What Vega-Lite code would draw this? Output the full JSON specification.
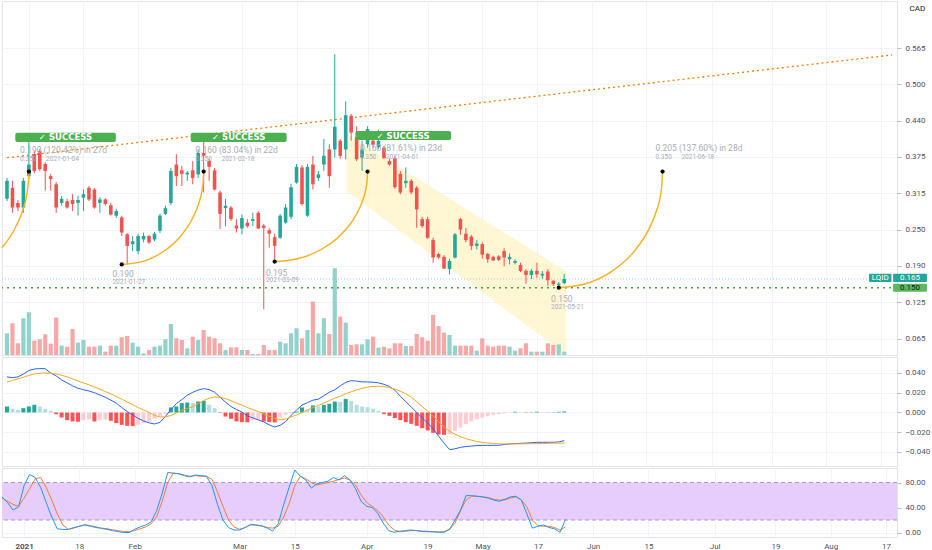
{
  "$schema": "https://vega.github.io/schema/vega-lite/v6.json",
  "padding": 0,
  "background": "white",
  "spacing": 0,
  "config": {
    "font": "Roboto",
    "view": {"stroke": "#e0e3eb"},
    "axis": {"labelFontSize": 8, "labelColor": "#50535e", "gridColor": "#f0f3fa", "domain": false, "tickColor": "#b8bcc6", "tickSize": 4, "labelPadding": 4, "labelOverlap": false}
  },
  "datasets": {
    "px": [
      {"i":-4,"o":0.303,"h":0.339,"l":0.299,"c":0.334,"v":65},
      {"i":-3,"o":0.322,"h":0.334,"l":0.279,"c":0.288,"v":95},
      {"i":-2,"o":0.296,"h":0.301,"l":0.282,"c":0.288,"v":35},
      {"i":-1,"o":0.288,"h":0.339,"l":0.279,"c":0.334,"v":110},
      {"i":0,"o":0.342,"h":0.401,"l":0.337,"c":0.362,"v":128},
      {"i":1,"o":0.380,"h":0.385,"l":0.347,"c":0.351,"v":43},
      {"i":2,"o":0.385,"h":0.389,"l":0.351,"c":0.354,"v":47},
      {"i":3,"o":0.363,"h":0.366,"l":0.317,"c":0.351,"v":62},
      {"i":4,"o":0.342,"h":0.346,"l":0.317,"c":0.337,"v":34},
      {"i":5,"o":0.328,"h":0.332,"l":0.279,"c":0.288,"v":112},
      {"i":6,"o":0.296,"h":0.308,"l":0.291,"c":0.303,"v":28},
      {"i":7,"o":0.299,"h":0.303,"l":0.286,"c":0.288,"v":25},
      {"i":8,"o":0.301,"h":0.311,"l":0.282,"c":0.294,"v":78},
      {"i":9,"o":0.296,"h":0.308,"l":0.274,"c":0.301,"v":37},
      {"i":10,"o":0.305,"h":0.319,"l":0.282,"c":0.311,"v":45},
      {"i":11,"o":0.322,"h":0.325,"l":0.299,"c":0.302,"v":25},
      {"i":12,"o":0.319,"h":0.322,"l":0.286,"c":0.288,"v":25},
      {"i":13,"o":0.296,"h":0.306,"l":0.279,"c":0.302,"v":28},
      {"i":14,"o":0.302,"h":0.304,"l":0.291,"c":0.294,"v":10},
      {"i":15,"o":0.292,"h":0.296,"l":0.274,"c":0.276,"v":28},
      {"i":16,"o":0.274,"h":0.286,"l":0.270,"c":0.282,"v":28},
      {"i":17,"o":0.271,"h":0.274,"l":0.239,"c":0.245,"v":53},
      {"i":18,"o":0.242,"h":0.244,"l":0.190,"c":0.222,"v":57},
      {"i":19,"o":0.225,"h":0.239,"l":0.213,"c":0.230,"v":37},
      {"i":20,"o":0.213,"h":0.243,"l":0.208,"c":0.239,"v":25},
      {"i":21,"o":0.233,"h":0.245,"l":0.228,"c":0.239,"v":5},
      {"i":22,"o":0.239,"h":0.241,"l":0.225,"c":0.228,"v":15},
      {"i":23,"o":0.233,"h":0.246,"l":0.230,"c":0.243,"v":25},
      {"i":24,"o":0.248,"h":0.277,"l":0.244,"c":0.274,"v":28},
      {"i":25,"o":0.277,"h":0.291,"l":0.275,"c":0.287,"v":47},
      {"i":26,"o":0.296,"h":0.356,"l":0.292,"c":0.351,"v":93},
      {"i":27,"o":0.362,"h":0.380,"l":0.325,"c":0.342,"v":50},
      {"i":28,"o":0.352,"h":0.360,"l":0.325,"c":0.346,"v":45},
      {"i":29,"o":0.345,"h":0.351,"l":0.334,"c":0.348,"v":20},
      {"i":30,"o":0.352,"h":0.368,"l":0.328,"c":0.339,"v":55},
      {"i":31,"o":0.345,"h":0.388,"l":0.339,"c":0.382,"v":45},
      {"i":32,"o":0.382,"h":0.405,"l":0.314,"c":0.377,"v":75},
      {"i":33,"o":0.368,"h":0.372,"l":0.334,"c":0.358,"v":55},
      {"i":34,"o":0.352,"h":0.356,"l":0.317,"c":0.319,"v":50},
      {"i":35,"o":0.314,"h":0.317,"l":0.251,"c":0.277,"v":35},
      {"i":36,"o":0.287,"h":0.303,"l":0.256,"c":0.291,"v":15},
      {"i":37,"o":0.288,"h":0.291,"l":0.265,"c":0.268,"v":23},
      {"i":38,"o":0.257,"h":0.268,"l":0.245,"c":0.252,"v":23},
      {"i":39,"o":0.252,"h":0.276,"l":0.242,"c":0.270,"v":15},
      {"i":40,"o":0.262,"h":0.268,"l":0.253,"c":0.256,"v":15},
      {"i":41,"o":0.265,"h":0.279,"l":0.256,"c":0.268,"v":3},
      {"i":42,"o":0.279,"h":0.282,"l":0.251,"c":0.252,"v":3},
      {"i":43,"o":0.257,"h":0.260,"l":0.113,"c":0.253,"v":30},
      {"i":44,"o":0.249,"h":0.253,"l":0.219,"c":0.243,"v":15},
      {"i":45,"o":0.237,"h":0.243,"l":0.195,"c":0.222,"v":15},
      {"i":46,"o":0.236,"h":0.277,"l":0.234,"c":0.274,"v":40},
      {"i":47,"o":0.262,"h":0.294,"l":0.260,"c":0.288,"v":35},
      {"i":48,"o":0.272,"h":0.329,"l":0.268,"c":0.323,"v":65},
      {"i":49,"o":0.331,"h":0.363,"l":0.329,"c":0.358,"v":80},
      {"i":50,"o":0.357,"h":0.361,"l":0.291,"c":0.294,"v":50},
      {"i":51,"o":0.274,"h":0.363,"l":0.272,"c":0.358,"v":75},
      {"i":52,"o":0.362,"h":0.377,"l":0.319,"c":0.328,"v":160},
      {"i":53,"o":0.339,"h":0.351,"l":0.334,"c":0.345,"v":65},
      {"i":54,"o":0.362,"h":0.406,"l":0.351,"c":0.377,"v":110},
      {"i":55,"o":0.388,"h":0.397,"l":0.322,"c":0.342,"v":63},
      {"i":56,"o":0.388,"h":0.552,"l":0.374,"c":0.427,"v":260},
      {"i":57,"o":0.403,"h":0.406,"l":0.372,"c":0.377,"v":115},
      {"i":58,"o":0.388,"h":0.471,"l":0.371,"c":0.447,"v":97},
      {"i":59,"o":0.446,"h":0.449,"l":0.403,"c":0.417,"v":30},
      {"i":60,"o":0.409,"h":0.428,"l":0.368,"c":0.371,"v":32},
      {"i":61,"o":0.374,"h":0.403,"l":0.351,"c":0.388,"v":32},
      {"i":62,"o":0.397,"h":0.428,"l":0.391,"c":0.423,"v":47},
      {"i":63,"o":0.403,"h":0.408,"l":0.391,"c":0.396,"v":55},
      {"i":64,"o":0.392,"h":0.422,"l":0.389,"c":0.403,"v":22},
      {"i":65,"o":0.391,"h":0.394,"l":0.372,"c":0.373,"v":25},
      {"i":66,"o":0.368,"h":0.372,"l":0.360,"c":0.362,"v":20},
      {"i":67,"o":0.373,"h":0.377,"l":0.320,"c":0.323,"v":35},
      {"i":68,"o":0.346,"h":0.351,"l":0.311,"c":0.314,"v":35},
      {"i":69,"o":0.330,"h":0.357,"l":0.322,"c":0.334,"v":27},
      {"i":70,"o":0.334,"h":0.337,"l":0.311,"c":0.314,"v":27},
      {"i":71,"o":0.322,"h":0.325,"l":0.253,"c":0.285,"v":63},
      {"i":72,"o":0.268,"h":0.272,"l":0.253,"c":0.256,"v":53},
      {"i":73,"o":0.268,"h":0.272,"l":0.234,"c":0.236,"v":43},
      {"i":74,"o":0.232,"h":0.236,"l":0.193,"c":0.202,"v":120},
      {"i":75,"o":0.208,"h":0.210,"l":0.200,"c":0.202,"v":87},
      {"i":76,"o":0.203,"h":0.206,"l":0.182,"c":0.183,"v":67},
      {"i":77,"o":0.182,"h":0.200,"l":0.173,"c":0.196,"v":60},
      {"i":78,"o":0.202,"h":0.244,"l":0.200,"c":0.242,"v":28},
      {"i":79,"o":0.268,"h":0.270,"l":0.241,"c":0.250,"v":28},
      {"i":80,"o":0.243,"h":0.253,"l":0.228,"c":0.232,"v":28},
      {"i":81,"o":0.238,"h":0.241,"l":0.215,"c":0.222,"v":28},
      {"i":82,"o":0.222,"h":0.232,"l":0.216,"c":0.226,"v":13},
      {"i":83,"o":0.225,"h":0.228,"l":0.200,"c":0.207,"v":50},
      {"i":84,"o":0.208,"h":0.210,"l":0.193,"c":0.199,"v":28},
      {"i":85,"o":0.203,"h":0.205,"l":0.196,"c":0.197,"v":25},
      {"i":86,"o":0.204,"h":0.206,"l":0.196,"c":0.198,"v":28},
      {"i":87,"o":0.213,"h":0.218,"l":0.187,"c":0.202,"v":28},
      {"i":88,"o":0.199,"h":0.209,"l":0.190,"c":0.203,"v":25},
      {"i":89,"o":0.193,"h":0.199,"l":0.190,"c":0.196,"v":13},
      {"i":90,"o":0.189,"h":0.193,"l":0.177,"c":0.179,"v":20},
      {"i":91,"o":0.179,"h":0.182,"l":0.157,"c":0.172,"v":35},
      {"i":92,"o":0.172,"h":0.182,"l":0.165,"c":0.179,"v":10},
      {"i":93,"o":0.179,"h":0.193,"l":0.167,"c":0.173,"v":10},
      {"i":94,"o":0.171,"h":0.179,"l":0.165,"c":0.174,"v":10},
      {"i":95,"o":0.178,"h":0.182,"l":0.153,"c":0.163,"v":35},
      {"i":96,"o":0.162,"h":0.163,"l":0.153,"c":0.156,"v":30},
      {"i":97,"o":0.155,"h":0.160,"l":0.150,"c":0.157,"v":32},
      {"i":98,"o":0.158,"h":0.174,"l":0.156,"c":0.165,"v":10}
    ],
    "macd": [
      {"i":-4,"m":0.0360,"s":0.0309,"h":0.0061},
      {"i":-3,"m":0.0353,"s":0.0325,"h":0.0037},
      {"i":-2,"m":0.0360,"s":0.0340,"h":0.0027},
      {"i":-1,"m":0.0390,"s":0.0357,"h":0.0044},
      {"i":0,"m":0.0425,"s":0.0375,"h":0.0061},
      {"i":1,"m":0.0440,"s":0.0390,"h":0.0078},
      {"i":2,"m":0.0445,"s":0.0398,"h":0.0061},
      {"i":3,"m":0.0443,"s":0.0400,"h":0.0037},
      {"i":4,"m":0.0400,"s":0.0398,"h":0.0017},
      {"i":5,"m":0.0370,"s":0.0390,"h":-0.0017},
      {"i":6,"m":0.0330,"s":0.0378,"h":-0.0051},
      {"i":7,"m":0.0300,"s":0.0360,"h":-0.0078},
      {"i":8,"m":0.0270,"s":0.0340,"h":-0.0091},
      {"i":9,"m":0.0245,"s":0.0318,"h":-0.0094},
      {"i":10,"m":0.0230,"s":0.0300,"h":-0.0078},
      {"i":11,"m":0.0218,"s":0.0280,"h":-0.0071},
      {"i":12,"m":0.0200,"s":0.0258,"h":-0.0091},
      {"i":13,"m":0.0178,"s":0.0236,"h":-0.0078},
      {"i":14,"m":0.0154,"s":0.0212,"h":-0.0071},
      {"i":15,"m":0.0125,"s":0.0188,"h":-0.0084},
      {"i":16,"m":0.0095,"s":0.0162,"h":-0.0108},
      {"i":17,"m":0.0050,"s":0.0135,"h":-0.0125},
      {"i":18,"m":0.0010,"s":0.0105,"h":-0.0135},
      {"i":19,"m":-0.0025,"s":0.0080,"h":-0.0138},
      {"i":20,"m":-0.0060,"s":0.0050,"h":-0.0125},
      {"i":21,"m":-0.0085,"s":0.0025,"h":-0.0108},
      {"i":22,"m":-0.0105,"s":0.0000,"h":-0.0091},
      {"i":23,"m":-0.0116,"s":-0.0030,"h":-0.0064},
      {"i":24,"m":-0.0100,"s":-0.0045,"h":-0.0041},
      {"i":25,"m":-0.0040,"s":-0.0045,"h":-0.0017},
      {"i":26,"m":0.0030,"s":-0.0030,"h":0.0051},
      {"i":27,"m":0.0090,"s":-0.0005,"h":0.0061},
      {"i":28,"m":0.0130,"s":0.0020,"h":0.0095},
      {"i":29,"m":0.0175,"s":0.0040,"h":0.0101},
      {"i":30,"m":0.0204,"s":0.0060,"h":0.0095},
      {"i":31,"m":0.0228,"s":0.0090,"h":0.0111},
      {"i":32,"m":0.0241,"s":0.0120,"h":0.0118},
      {"i":33,"m":0.0232,"s":0.0145,"h":0.0078},
      {"i":34,"m":0.0205,"s":0.0157,"h":0.0044},
      {"i":35,"m":0.0155,"s":0.0155,"h":-0.0005},
      {"i":36,"m":0.0105,"s":0.0140,"h":-0.0041},
      {"i":37,"m":0.0060,"s":0.0120,"h":-0.0064},
      {"i":38,"m":0.0030,"s":0.0095,"h":-0.0091},
      {"i":39,"m":0.0005,"s":0.0075,"h":-0.0098},
      {"i":40,"m":-0.0035,"s":0.0050,"h":-0.0100},
      {"i":41,"m":-0.0055,"s":0.0030,"h":-0.0078},
      {"i":42,"m":-0.0075,"s":0.0010,"h":-0.0074},
      {"i":43,"m":-0.0096,"s":-0.0015,"h":-0.0091},
      {"i":44,"m":-0.0125,"s":-0.0040,"h":-0.0098},
      {"i":45,"m":-0.0147,"s":-0.0060,"h":-0.0101},
      {"i":46,"m":-0.0130,"s":-0.0073,"h":-0.0051},
      {"i":47,"m":-0.0093,"s":-0.0068,"h":-0.0024},
      {"i":48,"m":-0.0030,"s":-0.0045,"h":0.0003},
      {"i":49,"m":0.0025,"s":-0.0025,"h":0.0010},
      {"i":50,"m":0.0075,"s":0.0000,"h":0.0051},
      {"i":51,"m":0.0100,"s":0.0025,"h":0.0027},
      {"i":52,"m":0.0125,"s":0.0050,"h":0.0071},
      {"i":53,"m":0.0135,"s":0.0072,"h":0.0061},
      {"i":54,"m":0.0170,"s":0.0095,"h":0.0078},
      {"i":55,"m":0.0205,"s":0.0120,"h":0.0088},
      {"i":56,"m":0.0230,"s":0.0145,"h":0.0111},
      {"i":57,"m":0.0270,"s":0.0164,"h":0.0108},
      {"i":58,"m":0.0305,"s":0.0190,"h":0.0138},
      {"i":59,"m":0.0322,"s":0.0210,"h":0.0118},
      {"i":60,"m":0.0318,"s":0.0228,"h":0.0078},
      {"i":61,"m":0.0310,"s":0.0245,"h":0.0061},
      {"i":62,"m":0.0309,"s":0.0257,"h":0.0054},
      {"i":63,"m":0.0307,"s":0.0264,"h":0.0037},
      {"i":64,"m":0.0300,"s":0.0266,"h":0.0017},
      {"i":65,"m":0.0285,"s":0.0262,"h":-0.0017},
      {"i":66,"m":0.0265,"s":0.0252,"h":-0.0034},
      {"i":67,"m":0.0225,"s":0.0237,"h":-0.0057},
      {"i":68,"m":0.0164,"s":0.0215,"h":-0.0078},
      {"i":69,"m":0.0110,"s":0.0190,"h":-0.0098},
      {"i":70,"m":0.0055,"s":0.0155,"h":-0.0115},
      {"i":71,"m":0.0000,"s":0.0110,"h":-0.0135},
      {"i":72,"m":-0.0055,"s":0.0060,"h":-0.0159},
      {"i":73,"m":-0.0105,"s":0.0015,"h":-0.0182},
      {"i":74,"m":-0.0165,"s":-0.0035,"h":-0.0206},
      {"i":75,"m":-0.0240,"s":-0.0093,"h":-0.0223},
      {"i":76,"m":-0.0310,"s":-0.0145,"h":-0.0226},
      {"i":77,"m":-0.0376,"s":-0.0190,"h":-0.0219},
      {"i":78,"m":-0.0368,"s":-0.0220,"h":-0.0186},
      {"i":79,"m":-0.0353,"s":-0.0245,"h":-0.0152},
      {"i":80,"m":-0.0345,"s":-0.0265,"h":-0.0118},
      {"i":81,"m":-0.0340,"s":-0.0280,"h":-0.0091},
      {"i":82,"m":-0.0335,"s":-0.0295,"h":-0.0071},
      {"i":83,"m":-0.0333,"s":-0.0303,"h":-0.0051},
      {"i":84,"m":-0.0333,"s":-0.0309,"h":-0.0037},
      {"i":85,"m":-0.0333,"s":-0.0314,"h":-0.0024},
      {"i":86,"m":-0.0332,"s":-0.0317,"h":-0.0017},
      {"i":87,"m":-0.0325,"s":-0.0318,"h":-0.0010},
      {"i":88,"m":-0.0318,"s":-0.0319,"h":-0.0003},
      {"i":89,"m":-0.0315,"s":-0.0318,"h":0.0007},
      {"i":90,"m":-0.0312,"s":-0.0318,"h":0.0003},
      {"i":91,"m":-0.0310,"s":-0.0317,"h":-0.0003},
      {"i":92,"m":-0.0306,"s":-0.0316,"h":0.0003},
      {"i":93,"m":-0.0302,"s":-0.0316,"h":0.0007},
      {"i":94,"m":-0.0302,"s":-0.0315,"h":0.0003},
      {"i":95,"m":-0.0302,"s":-0.0313,"h":-0.0002},
      {"i":96,"m":-0.0301,"s":-0.0311,"h":0.0003},
      {"i":97,"m":-0.0298,"s":-0.0310,"h":0.0007},
      {"i":98,"m":-0.0285,"s":-0.0309,"h":0.0010}
    ],
    "stoch": [
      {"i":-4,"k":57,"d":55},{"i":-3,"k":48,"d":50},{"i":-2,"k":36,"d":45},{"i":-1,"k":41,"d":42},
      {"i":0,"k":75,"d":55},{"i":1,"k":93,"d":70},{"i":2,"k":88,"d":86},{"i":3,"k":72,"d":88},
      {"i":4,"k":48,"d":72},{"i":5,"k":25,"d":52},{"i":6,"k":6,"d":30},{"i":7,"k":5,"d":12},
      {"i":8,"k":5,"d":5},{"i":9,"k":8,"d":7},{"i":10,"k":10,"d":10},{"i":11,"k":12,"d":12.5},
      {"i":12,"k":10,"d":11},{"i":13,"k":8,"d":9},{"i":14,"k":6.7,"d":7},{"i":15,"k":5,"d":6},
      {"i":16,"k":3,"d":4.5},{"i":17,"k":1.5,"d":3},{"i":18,"k":0,"d":1.5},{"i":19,"k":0,"d":1.3},
      {"i":20,"k":5,"d":3},{"i":21,"k":9,"d":6},{"i":22,"k":12,"d":9},{"i":23,"k":17,"d":14},
      {"i":24,"k":35,"d":25},{"i":25,"k":63,"d":50},{"i":26,"k":96,"d":80},{"i":27,"k":95,"d":95},
      {"i":28,"k":94,"d":94},{"i":29,"k":91,"d":92},{"i":30,"k":89,"d":90},{"i":31,"k":92,"d":91},
      {"i":32,"k":91,"d":90},{"i":33,"k":90,"d":90},{"i":34,"k":75,"d":85},{"i":35,"k":45,"d":65},
      {"i":36,"k":20,"d":42},{"i":37,"k":8,"d":20},{"i":38,"k":4,"d":9},{"i":39,"k":4,"d":5},
      {"i":40,"k":8,"d":8},{"i":41,"k":13,"d":12},{"i":42,"k":12,"d":12},{"i":43,"k":11,"d":10},
      {"i":44,"k":7,"d":8},{"i":45,"k":2.4,"d":7},{"i":46,"k":14,"d":10},{"i":47,"k":45,"d":25},
      {"i":48,"k":73,"d":47},{"i":49,"k":100,"d":75},{"i":50,"k":90,"d":90},{"i":51,"k":84,"d":86},
      {"i":52,"k":71,"d":80},{"i":53,"k":78,"d":76},{"i":54,"k":80,"d":78},{"i":55,"k":82,"d":80},
      {"i":56,"k":88,"d":82},{"i":57,"k":84,"d":85},{"i":58,"k":91,"d":87},{"i":59,"k":84,"d":84},
      {"i":60,"k":70,"d":76},{"i":61,"k":50,"d":60},{"i":62,"k":42,"d":48},{"i":63,"k":40,"d":42},
      {"i":64,"k":31,"d":35},{"i":65,"k":15,"d":25},{"i":66,"k":3,"d":12},{"i":67,"k":0.3,"d":4},
      {"i":68,"k":2,"d":1.3},{"i":69,"k":3,"d":2},{"i":70,"k":4,"d":3},{"i":71,"k":3,"d":3},
      {"i":72,"k":1.5,"d":2.4},{"i":73,"k":1.3,"d":2},{"i":74,"k":1,"d":1.5},{"i":75,"k":0.5,"d":1},
      {"i":76,"k":0.3,"d":1.3},{"i":77,"k":5,"d":5},{"i":78,"k":20,"d":15},{"i":79,"k":36,"d":35},
      {"i":80,"k":59,"d":52},{"i":81,"k":59,"d":58},{"i":82,"k":58,"d":58},{"i":83,"k":57,"d":57},
      {"i":84,"k":55,"d":56},{"i":85,"k":52,"d":53},{"i":86,"k":50,"d":52},{"i":87,"k":53,"d":52},
      {"i":88,"k":57,"d":55},{"i":89,"k":58,"d":57},{"i":90,"k":52,"d":52},{"i":91,"k":30,"d":41},
      {"i":92,"k":7,"d":20},{"i":93,"k":10,"d":11},{"i":94,"k":12,"d":10},{"i":95,"k":8,"d":10},
      {"i":96,"k":6,"d":8},{"i":97,"k":0.3,"d":4},{"i":98,"k":21,"d":9}
    ],
    "arcs": [
      {"a":"A","i":-18,"p":0.159},{"a":"A","i":-13.34,"p":0.1655},{"a":"A","i":-9,"p":0.1846},{"a":"A","i":-5.27,"p":0.215},{"a":"A","i":-2.41,"p":0.2545},{"a":"A","i":-1.08,"p":0.2847},{"a":"A","i":-0.27,"p":0.3168},{"a":"A","i":-0.07,"p":0.3334},{"a":"A","i":0,"p":0.350},
      {"a":"B","i":17,"p":0.190},{"a":"B","i":20.89,"p":0.1954},{"a":"B","i":24.5,"p":0.2114},{"a":"B","i":27.6,"p":0.2369},{"a":"B","i":29.99,"p":0.270},{"a":"B","i":31.1,"p":0.2953},{"a":"B","i":31.78,"p":0.3222},{"a":"B","i":31.94,"p":0.3361},{"a":"B","i":32,"p":0.350},
      {"a":"C","i":45,"p":0.195},{"a":"C","i":49.4,"p":0.2003},{"a":"C","i":53.5,"p":0.2158},{"a":"C","i":57.02,"p":0.2404},{"a":"C","i":59.72,"p":0.2725},{"a":"C","i":60.98,"p":0.297},{"a":"C","i":61.75,"p":0.323},{"a":"C","i":61.93,"p":0.3365},{"a":"C","i":62,"p":0.350},
      {"a":"D","i":97,"p":0.150},{"a":"D","i":101.92,"p":0.1568},{"a":"D","i":106.5,"p":0.1768},{"a":"D","i":110.43,"p":0.2086},{"a":"D","i":113.45,"p":0.250},{"a":"D","i":114.86,"p":0.2816},{"a":"D","i":115.72,"p":0.3152},{"a":"D","i":115.92,"p":0.3326},{"a":"D","i":116,"p":0.350}
    ],
    "dots": [
      {"i":0,"p":0.350},{"i":17,"p":0.190},{"i":32,"p":0.350},{"i":45,"p":0.195},{"i":62,"p":0.350},{"i":97,"p":0.150},{"i":116,"p":0.350}
    ],
    "trend": [{"i":-4,"p":0.3738},{"i":158,"p":0.5506}],
    "chan": [{"i":58.15,"top":0.4141,"bot":0.3165},{"i":98.3,"top":0.1788,"bot":0.035}],
    "ok": [
      {"i1":-2.48,"i2":15.93,"p1":0.4009,"p2":0.4169,"ic":6.7,"pc":0.4089},
      {"i1":29.63,"i2":47.19,"p1":0.4009,"p2":0.4169,"ic":38.4,"pc":0.4089},
      {"i1":59.78,"i2":77.28,"p1":0.4043,"p2":0.4198,"ic":68.5,"pc":0.4120}
    ],
    "big": [
      {"i":-1.6,"p":0.387,"t":"0.190 (120.42%) in 27d"},
      {"i":30.5,"p":0.387,"t":"0.160 (83.04%) in 22d"},
      {"i":60.6,"p":0.390,"t":"0.160 (81.61%) in 23d"},
      {"i":114.7,"p":0.390,"t":"0.205 (137.60%) in 28d"},
      {"i":15.3,"p":0.173,"t":"0.190"},
      {"i":43.4,"p":0.176,"t":"0.195"},
      {"i":95.6,"p":0.131,"t":"0.150"}
    ],
    "small": [
      {"i":-1.6,"p":0.372,"t":"0.350\u00a0\u00a0\u00a0\u00a0\u00a0\u00a02021-01-04"},
      {"i":30.5,"p":0.372,"t":"0.350\u00a0\u00a0\u00a0\u00a0\u00a0\u00a02021-02-18"},
      {"i":60.6,"p":0.3755,"t":"0.350\u00a0\u00a0\u00a0\u00a0\u00a0\u00a02021-04-01"},
      {"i":114.7,"p":0.3755,"t":"0.350\u00a0\u00a0\u00a0\u00a0\u00a0\u00a02021-06-18"},
      {"i":15.3,"p":0.160,"t":"2021-01-27"},
      {"i":43.4,"p":0.163,"t":"2021-03-09"},
      {"i":95.6,"p":0.117,"t":"2021-05-21"}
    ],
    "tags": [
      {"t":"LQID","i1":153.8,"i2":157.9,"p1":0.1598,"p2":0.1741,"ic":155.85,"pc":0.167},
      {"t":"0.165","i1":158.2,"i2":164.4,"p1":0.1598,"p2":0.1741,"ic":161.3,"pc":0.167},
      {"t":"0.150","i1":158.2,"i2":164.4,"p1":0.1432,"p2":0.1569,"ic":161.3,"pc":0.150}
    ]
  },
  "vconcat": [
    {
      "width": 895,
      "height": 354,
      "resolve": {"scale": {"y": "independent"}},
      "layer": [
        {
          "data": {"name": "chan"},
          "mark": {"type": "area", "color": "#fff3c4", "opacity": 0.75, "clip": true},
          "encoding": {
            "x": {"field": "i", "type": "quantitative", "scale": {"domain": [-4, 158], "nice": false, "zero": false}},
            "y": {"field": "top", "type": "quantitative", "scale": {"domain": [0.0342, 0.6435], "nice": false, "zero": false}, "axis": null},
            "y2": {"field": "bot"}
          }
        },
        {
          "data": {"name": "px"},
          "mark": {"type": "bar", "size": 4.2, "clip": true},
          "encoding": {
            "x": {"field": "i", "type": "quantitative", "scale": {"domain": [-4, 158], "nice": false, "zero": false}},
            "y": {"field": "v", "type": "quantitative", "scale": {"domain": [0, 1060], "nice": false}, "axis": null},
            "color": {"condition": {"test": "datum.c >= datum.o", "value": "#93d2cc"}, "value": "#f6a8a6"}
          }
        },
        {
          "layer": [
            {
              "data": {"name": "trend"},
              "mark": {"type": "line", "color": "#f57c00", "strokeDash": [2, 3], "strokeWidth": 1.3, "clip": true},
              "encoding": {
                "x": {"field": "i", "type": "quantitative", "scale": {"domain": [-4, 158], "nice": false, "zero": false},
                  "axis": {"values": [0,10,20,39,49,62,73,83,93,103,113,125,136,146,156], "tickCount": 20, "labels": false, "ticks": false, "grid": true, "title": null}},
                "y": {"field": "p", "type": "quantitative", "scale": {"domain": [0.0342, 0.6435], "nice": false, "zero": false},
                  "axis": {"orient": "right", "values": [0.0625,0.125,0.1875,0.25,0.3125,0.375,0.4375,0.5,0.5625], "tickCount": 12,
                    "labelExpr": "format(round(datum.value*200)/200, '.3f')", "grid": true,
                    "title": "CAD", "titleAngle": 0, "titleAlign": "left", "titleBaseline": "top", "titleX": 12, "titleY": 3,
                    "titleFontSize": 8, "titleFontWeight": "normal", "titleColor": "#131722"}}
              }
            },
            {
              "data": {"values": [{}]},
              "mark": {"type": "rule", "color": "#a9c6d0", "strokeDash": [1, 2], "strokeWidth": 1},
              "encoding": {"y": {"datum": 0.165, "type": "quantitative", "scale": {"domain": [0.0342, 0.6435], "nice": false, "zero": false}}}
            },
            {
              "data": {"values": [{}]},
              "mark": {"type": "rule", "color": "#43a047", "strokeDash": [2, 4], "strokeWidth": 1.5},
              "encoding": {"y": {"datum": 0.15, "type": "quantitative", "scale": {"domain": [0.0342, 0.6435], "nice": false, "zero": false}}}
            },
            {
              "data": {"name": "px"},
              "mark": {"type": "rule", "strokeWidth": 1, "clip": true},
              "encoding": {
                "x": {"field": "i", "type": "quantitative", "scale": {"domain": [-4, 158], "nice": false, "zero": false}},
                "y": {"field": "l", "type": "quantitative", "scale": {"domain": [0.0342, 0.6435], "nice": false, "zero": false}},
                "y2": {"field": "h"},
                "color": {"condition": {"test": "datum.c >= datum.o", "value": "#26a69a"}, "value": "#ef5350"}
              }
            },
            {
              "data": {"name": "px"},
              "mark": {"type": "bar", "size": 3.6, "clip": true},
              "encoding": {
                "x": {"field": "i", "type": "quantitative", "scale": {"domain": [-4, 158], "nice": false, "zero": false}},
                "y": {"field": "o", "type": "quantitative", "scale": {"domain": [0.0342, 0.6435], "nice": false, "zero": false}},
                "y2": {"field": "c"},
                "color": {"condition": {"test": "datum.c >= datum.o", "value": "#26a69a"}, "value": "#ef5350"}
              }
            },
            {
              "data": {"name": "arcs"},
              "mark": {"type": "line", "color": "#f6b01e", "strokeWidth": 1.4, "interpolate": "monotone", "clip": true},
              "encoding": {
                "x": {"field": "i", "type": "quantitative", "scale": {"domain": [-4, 158], "nice": false, "zero": false}},
                "y": {"field": "p", "type": "quantitative", "scale": {"domain": [0.0342, 0.6435], "nice": false, "zero": false}},
                "detail": {"field": "a"}
              }
            },
            {
              "data": {"name": "dots"},
              "mark": {"type": "point", "filled": true, "color": "#000000", "size": 18, "opacity": 1},
              "encoding": {
                "x": {"field": "i", "type": "quantitative", "scale": {"domain": [-4, 158], "nice": false, "zero": false}},
                "y": {"field": "p", "type": "quantitative", "scale": {"domain": [0.0342, 0.6435], "nice": false, "zero": false}}
              }
            },
            {
              "data": {"name": "ok"},
              "mark": {"type": "rect", "color": "#4caf50", "cornerRadius": 2},
              "encoding": {
                "x": {"field": "i1", "type": "quantitative", "scale": {"domain": [-4, 158], "nice": false, "zero": false}},
                "x2": {"field": "i2"},
                "y": {"field": "p1", "type": "quantitative", "scale": {"domain": [0.0342, 0.6435], "nice": false, "zero": false}},
                "y2": {"field": "p2"}
              }
            },
            {
              "data": {"name": "ok"},
              "mark": {"type": "text", "text": "\u2713 SUCCESS", "color": "white", "fontWeight": "bold", "fontSize": 8.5, "font": "DejaVu Sans"},
              "encoding": {
                "x": {"field": "ic", "type": "quantitative", "scale": {"domain": [-4, 158], "nice": false, "zero": false}},
                "y": {"field": "pc", "type": "quantitative", "scale": {"domain": [0.0342, 0.6435], "nice": false, "zero": false}}
              }
            },
            {
              "data": {"name": "big"},
              "mark": {"type": "text", "align": "left", "baseline": "middle", "color": "#a9acb5", "fontSize": 8.5},
              "encoding": {
                "x": {"field": "i", "type": "quantitative", "scale": {"domain": [-4, 158], "nice": false, "zero": false}},
                "y": {"field": "p", "type": "quantitative", "scale": {"domain": [0.0342, 0.6435], "nice": false, "zero": false}},
                "text": {"field": "t"}
              }
            },
            {
              "data": {"name": "small"},
              "mark": {"type": "text", "align": "left", "baseline": "middle", "color": "#a9acb5", "fontSize": 6.5},
              "encoding": {
                "x": {"field": "i", "type": "quantitative", "scale": {"domain": [-4, 158], "nice": false, "zero": false}},
                "y": {"field": "p", "type": "quantitative", "scale": {"domain": [0.0342, 0.6435], "nice": false, "zero": false}},
                "text": {"field": "t"}
              }
            },
            {
              "data": {"name": "tags"},
              "mark": {"type": "rect", "cornerRadius": 1},
              "encoding": {
                "x": {"field": "i1", "type": "quantitative", "scale": {"domain": [-4, 158], "nice": false, "zero": false}},
                "x2": {"field": "i2"},
                "y": {"field": "p1", "type": "quantitative", "scale": {"domain": [0.0342, 0.6435], "nice": false, "zero": false}},
                "y2": {"field": "p2"},
                "color": {"condition": {"test": "datum.t == '0.150'", "value": "#5cb85c"}, "value": "#26a69a"}
              }
            },
            {
              "data": {"name": "tags"},
              "mark": {"type": "text", "fontSize": 8, "baseline": "middle"},
              "encoding": {
                "x": {"field": "ic", "type": "quantitative", "scale": {"domain": [-4, 158], "nice": false, "zero": false}},
                "y": {"field": "pc", "type": "quantitative", "scale": {"domain": [0.0342, 0.6435], "nice": false, "zero": false}},
                "text": {"field": "t"},
                "color": {"condition": {"test": "datum.t == '0.150'", "value": "#131722"}, "value": "#ffffff"}
              }
            }
          ]
        }
      ]
    },
    {
      "width": 895,
      "height": 109,
      "data": {"name": "macd"},
      "layer": [
        {
          "transform": [{"window": [{"op": "lag", "field": "h", "as": "hp"}], "sort": [{"field": "i", "order": "ascending"}]}],
          "mark": {"type": "bar", "size": 4, "clip": true},
          "encoding": {
            "x": {"field": "i", "type": "quantitative", "scale": {"domain": [-4, 158], "nice": false, "zero": false},
              "axis": {"values": [0,10,20,39,49,62,73,83,93,103,113,125,136,146,156], "tickCount": 20, "labels": false, "ticks": false, "grid": true, "title": null}},
            "y": {"field": "h", "type": "quantitative", "scale": {"domain": [-0.0542, 0.0562], "nice": false, "zero": false},
              "axis": {"orient": "right", "values": [-0.04, -0.02, 0, 0.02, 0.04], "tickCount": 10, "format": ".3f", "grid": true, "title": null, "labelOverlap": false}},
            "y2": {"datum": 0},
            "color": {
              "condition": [
                {"test": "datum.h >= 0 && (datum.hp == null || datum.h >= datum.hp)", "value": "#26a69a"},
                {"test": "datum.h >= 0", "value": "#b2dfdb"},
                {"test": "datum.h < datum.hp", "value": "#ff5252"}
              ],
              "value": "#ffcdd2"
            }
          }
        },
        {
          "mark": {"type": "line", "color": "#2962ff", "strokeWidth": 1, "clip": true},
          "encoding": {
            "x": {"field": "i", "type": "quantitative", "scale": {"domain": [-4, 158], "nice": false, "zero": false}},
            "y": {"field": "m", "type": "quantitative", "scale": {"domain": [-0.0542, 0.0562], "nice": false, "zero": false}}
          }
        },
        {
          "mark": {"type": "line", "color": "#f6a821", "strokeWidth": 1, "clip": true},
          "encoding": {
            "x": {"field": "i", "type": "quantitative", "scale": {"domain": [-4, 158], "nice": false, "zero": false}},
            "y": {"field": "s", "type": "quantitative", "scale": {"domain": [-0.0542, 0.0562], "nice": false, "zero": false}}
          }
        }
      ]
    },
    {
      "width": 895,
      "height": 69,
      "layer": [
        {
          "data": {"name": "stoch"},
          "mark": {"type": "line", "color": "#f57c3a", "strokeWidth": 1, "clip": true, "opacity": 0},
          "encoding": {
            "x": {"field": "i", "type": "quantitative", "scale": {"domain": [-4, 158], "nice": false, "zero": false},
              "axis": {"values": [0,10,20,39,49,62,73,83,93,103,113,125,136,146,156], "tickCount": 20,
                "labelExpr": "['2021','18','Feb','Mar','15','Apr','19','May','17','Jun','15','Jul','19','Aug','17'][indexof([0,10,20,39,49,62,73,83,93,103,113,125,136,146,156], datum.value)]",
                "labelFlush": false, "labelPadding": 5, "ticks": false, "grid": true, "title": null,
                "labelFontWeight": {"condition": {"test": "datum.value == 0", "value": "bold"}, "value": "normal"}}},
            "y": {"field": "d", "type": "quantitative", "scale": {"domain": [-7.2, 103.2], "nice": false, "zero": false},
              "axis": {"orient": "right", "values": [0, 40, 80], "tickCount": 10, "format": ".2f", "grid": true, "title": null, "labelOverlap": false}}
          }
        },
        {
          "data": {"values": [{}]},
          "mark": {"type": "rect", "color": "#e6cdfb"},
          "encoding": {
            "y": {"datum": 80, "type": "quantitative", "scale": {"domain": [-7.2, 103.2], "nice": false, "zero": false}},
            "y2": {"datum": 20}
          }
        },
        {
          "data": {"values": [{"lv": 80}, {"lv": 20}]},
          "mark": {"type": "rule", "color": "#a59cb8", "strokeDash": [4, 3], "strokeWidth": 1},
          "encoding": {
            "y": {"field": "lv", "type": "quantitative", "scale": {"domain": [-7.2, 103.2], "nice": false, "zero": false}}
          }
        },
        {
          "data": {"name": "stoch"},
          "mark": {"type": "line", "color": "#f57c3a", "strokeWidth": 1, "clip": true},
          "encoding": {
            "x": {"field": "i", "type": "quantitative", "scale": {"domain": [-4, 158], "nice": false, "zero": false}},
            "y": {"field": "d", "type": "quantitative", "scale": {"domain": [-7.2, 103.2], "nice": false, "zero": false}}
          }
        },
        {
          "data": {"name": "stoch"},
          "mark": {"type": "line", "color": "#2196f3", "strokeWidth": 1, "clip": true},
          "encoding": {
            "x": {"field": "i", "type": "quantitative", "scale": {"domain": [-4, 158], "nice": false, "zero": false}},
            "y": {"field": "k", "type": "quantitative", "scale": {"domain": [-7.2, 103.2], "nice": false, "zero": false}}
          }
        }
      ]
    }
  ]
}
